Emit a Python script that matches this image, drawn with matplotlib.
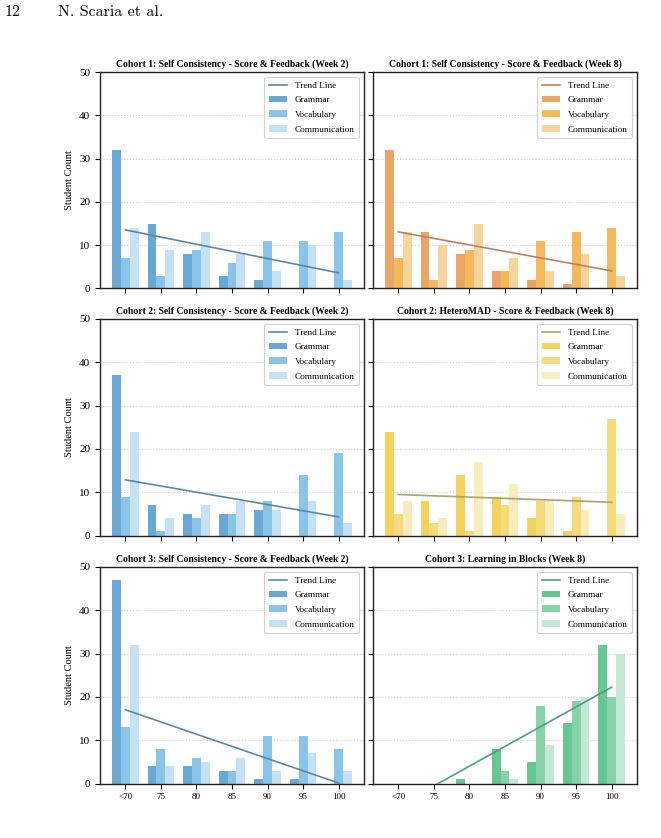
import numpy as np
import matplotlib
matplotlib.use("Agg")
import matplotlib.pyplot as plt

categories = ["<70", "75", "80", "85", "90", "95", "100"]
series_names = ["Grammar", "Vocabulary", "Communication"]

titles = [
    "Cohort 1: Self Consistency - Score & Feedback (Week 2)",
    "Cohort 1: Self Consistency - Score & Feedback (Week 8)",
    "Cohort 2: Self Consistency - Score & Feedback (Week 2)",
    "Cohort 2: HeteroMAD - Score & Feedback (Week 8)",
    "Cohort 3: Self Consistency - Score & Feedback (Week 2)",
    "Cohort 3: Learning in Blocks (Week 8)",
]

c1w2_grammar = [32, 15, 8, 3, 2, 0, 0]
c1w2_vocab = [7, 3, 9, 6, 11, 11, 13]
c1w2_comm = [14, 9, 13, 8, 4, 10, 2]

c1w8_grammar = [32, 13, 8, 4, 2, 1, 0]
c1w8_vocab = [7, 2, 9, 4, 11, 13, 14]
c1w8_comm = [13, 10, 15, 7, 4, 8, 3]

c2w2_grammar = [37, 7, 5, 5, 6, 0, 0]
c2w2_vocab = [9, 1, 4, 5, 8, 14, 19]
c2w2_comm = [24, 4, 7, 8, 6, 8, 3]

c2w8_grammar = [24, 8, 14, 9, 4, 1, 0]
c2w8_vocab = [5, 3, 1, 7, 8, 9, 27]
c2w8_comm = [8, 4, 17, 12, 8, 6, 5]

c3w2_grammar = [47, 4, 4, 3, 1, 1, 0]
c3w2_vocab = [13, 8, 6, 3, 11, 11, 8]
c3w2_comm = [32, 4, 5, 6, 3, 7, 3]

c3w8_grammar = [0, 0, 1, 8, 5, 14, 32]
c3w8_vocab = [0, 0, 0, 3, 18, 19, 20]
c3w8_comm = [0, 0, 0, 1, 9, 20, 30]

panel_data = [
    (c1w2_grammar, c1w2_vocab, c1w2_comm),
    (c1w8_grammar, c1w8_vocab, c1w8_comm),
    (c2w2_grammar, c2w2_vocab, c2w2_comm),
    (c2w8_grammar, c2w8_vocab, c2w8_comm),
    (c3w2_grammar, c3w2_vocab, c3w2_comm),
    (c3w8_grammar, c3w8_vocab, c3w8_comm),
]

blue = (["#6aa9d5", "#8ac4e8", "#c5e2f4"], "#5b87a6")
orange = (["#eda566", "#f4b95a", "#f8d49d"], "#b5835e")
yellow = (["#f2d35c", "#f5dc7a", "#f9edbd"], "#b0a06a")
green = (["#66c793", "#88d2a8", "#c3e8d3"], "#4d9e84")
panel_colors = [blue, orange, blue, yellow, blue, green]

plt.rcParams["font.family"] = ["Liberation Serif", "DejaVu Serif"]

fig = plt.figure(figsize=(6.61, 8.38), dpi=100)

fig.text(5 / 661, 1 - 12 / 838, "12", fontsize=11.5, family=["cmr10", "DejaVu Serif"],
         va="center", ha="left")
fig.text(58 / 661, 1 - 12 / 838, "N. Scaria et al.", fontsize=11.5,
         family=["cmr10", "DejaVu Serif"], va="center", ha="left")

W, H = 661, 838
lefts = [100, 373]
tops = [72, 319, 567]
aw, ah = 264, 216.5

x = np.arange(len(categories))
bw = 0.25
axes = []
for i in range(6):
    r, c = divmod(i, 2)
    ax = fig.add_axes([lefts[c] / W, 1 - (tops[r] + ah) / H, aw / W, ah / H])
    axes.append(ax)
    cols, tcol = panel_colors[i]
    data = panel_data[i]
    mean = np.mean(np.array(data, dtype=float), axis=0)
    coef = np.polyfit(x, mean, 1)
    ax.plot(x, np.polyval(coef, x), color=tcol, lw=1.2, label="Trend Line", zorder=3)
    for k, (vals, name) in enumerate(zip(data, series_names)):
        ax.bar(x + (k - 1) * bw, vals, bw, color=cols[k], label=name, zorder=2)
    ax.set_ylim(0, 50)
    ax.set_yticks(range(0, 51, 10))
    ax.set_xticks(x)
    ax.grid(axis="y", linestyle=":", color="#cccccc", lw=0.8, zorder=0)
    ax.set_axisbelow(True)
    ax.set_title(titles[i], fontsize=6.9, fontweight="bold", pad=4)
    for s in ax.spines.values():
        s.set_linewidth(1.0)
        s.set_color("#222222")
    ax.tick_params(axis="y", labelsize=8, length=3.5, width=0.8)
    ax.tick_params(axis="x", labelsize=6.5, length=3.5, width=0.8)
    if c == 0:
        ax.set_ylabel("Student Count", fontsize=7.5)
    else:
        ax.set_yticklabels([])
    if r == 2:
        ax.set_xticklabels(categories)
    else:
        ax.set_xticklabels([])
    leg = ax.legend(loc="upper right", fontsize=6.7, framealpha=0.9,
                    borderpad=0.5, labelspacing=0.65, handletextpad=0.8)
    leg.get_frame().set_linewidth(0.8)

fig.savefig("out.png", dpi=100)
